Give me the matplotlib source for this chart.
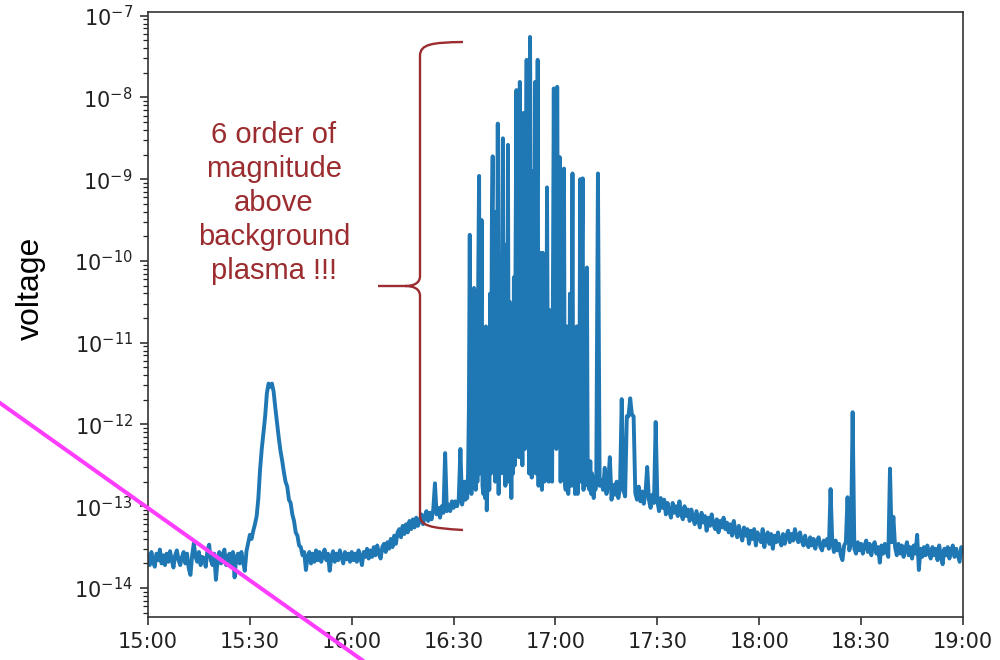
import matplotlib
matplotlib.use("Agg")
import matplotlib.pyplot as plt
import matplotlib.dates as mdates
import matplotlib.transforms as mtransforms
from matplotlib.path import Path
from matplotlib.patches import PathPatch
from matplotlib.lines import Line2D
from matplotlib.ticker import LogLocator, NullFormatter
import numpy as np
import pandas as pd

# log10(voltage)
# 30 s readings from 15:00 to 16:32:30
quiet_before = [  # 15:00 - 15:29:30
    -13.60, -13.72, -13.56, -13.68, -13.74, -13.58, -13.66, -13.53, -13.70, -13.60,
    -13.72, -13.58, -13.68, -13.55, -13.66, -13.75, -13.60, -13.54, -13.66, -13.72,
    -13.62, -13.56, -13.70, -13.58, -13.76, -13.84, -13.60, -13.45, -13.62, -13.68,
    -13.56, -13.72, -13.62, -13.64, -13.74, -13.54, -13.47, -13.66, -13.72, -13.58,
    -13.90, -13.66, -13.56, -13.70, -13.60, -13.53, -13.72, -13.62, -13.58, -13.74,
    -13.56, -13.87, -13.62, -13.58, -13.70, -13.56, -13.68, -13.79, -13.55, -13.45,
]
flare_1535 = [  # 15:30 - 15:49:30
    -13.35, -13.40, -13.30, -13.22, -13.12, -12.90, -12.55, -12.30, -12.10, -11.90,
    -11.62, -11.50, -11.54, -11.50, -11.60, -11.80, -11.98, -12.16, -12.32, -12.44,
    -12.58, -12.70, -12.76, -12.92, -12.96, -13.10, -13.18, -13.32, -13.36, -13.48,
    -13.50, -13.60, -13.56, -13.78, -13.62, -13.56, -13.70, -13.58, -13.68, -13.54,
]
quiet_mid = [  # 15:50 - 16:29:30
    -13.66, -13.56, -13.68, -13.60, -13.53, -13.66, -13.58, -13.79, -13.62, -13.55,
    -13.68, -13.58, -13.66, -13.54, -13.62, -13.70, -13.56, -13.65, -13.58, -13.68,
    -13.56, -13.66, -13.58, -13.68, -13.54, -13.62, -13.72, -13.56, -13.62, -13.52,
    -13.64, -13.54, -13.62, -13.50, -13.60, -13.48, -13.58, -13.64, -13.50, -13.46,
    -13.56, -13.44, -13.52, -13.40, -13.50, -13.36, -13.46, -13.32, -13.28, -13.38,
    -13.24, -13.34, -13.22, -13.32, -13.18, -13.28, -13.16, -13.26, -13.14, -13.24,
    -13.18, -13.10, -13.22, -13.12, -13.06, -13.18, -13.08, -13.16, -13.04, -12.72,
    -13.10, -13.02, -13.14, -13.00, -13.08, -12.35, -13.06, -12.98, -13.06, -12.94,
]
onset = [-13.02, -12.94, -13.00, -12.92, -12.30, -12.98]  # 16:30 - 16:32:30

# 15 s readings, 16:33 - 17:11:45 (one row per minute)
burst_core = [
    -12.85, -12.70, -12.92, -12.75,
    -12.90, -12.60, -11.80, -9.68,
    -12.60, -12.85, -11.20, -12.70,
    -10.33, -10.40, -12.80, -11.60,
    -12.70, -10.20, -8.96, -12.60,
    -11.40, -9.50, -12.75, -12.85,
    -11.00, -12.90, -10.80, -13.05,
    -12.70, -11.20, -12.80, -10.40,
    -12.60, -9.60, -8.72, -12.40,
    -10.80, -12.70, -9.40, -11.60,
    -8.32, -12.85, -10.20, -12.60,
    -11.20, -9.70, -8.50, -12.60,
    -10.60, -12.75, -9.80, -11.40,
    -8.58, -12.70, -10.50, -11.05,
    -12.90, -11.05, -12.60, -10.20,
    -12.50, -9.80, -7.91, -11.00,
    -9.50, -12.40, -7.81, -10.60,
    -11.20, -12.50, -8.19, -10.00,
    -12.30, -9.40, -7.54, -11.80,
    -9.20, -12.60, -7.26, -9.60,
    -12.65, -8.90, -11.40, -12.50,
    -7.81, -12.60, -9.95, -7.54,
    -12.75, -9.95, -12.50, -9.90,
    -12.80, -9.90, -11.60, -12.70,
    -9.95, -12.60, -9.10, -11.50,
    -12.70, -10.60, -12.50, -11.20,
    -12.70, -10.20, -7.89, -11.40,
    -9.80, -12.30, -7.87, -10.40,
    -11.20, -8.73, -12.70, -10.60,
    -12.50, -11.80, -8.87, -12.70,
    -12.80, -10.80, -11.12, -12.85,
    -12.40, -10.40, -12.75, -11.60,
    -8.93, -12.75, -11.60, -12.85,
    -12.60, -10.80, -12.85, -11.40,
    -12.60, -9.00, -12.70, -10.20,
    -8.99, -12.80, -11.80, -12.50,
    -10.60, -10.08, -12.75, -12.60,
    -12.80, -12.45, -12.85, -12.60,
    -12.70, -12.90, -12.65, -12.80,
]

# 30 s readings again, 17:12 - 19:00
burst_tail = [
    -12.70, -8.93, -12.75, -12.68, -12.80, -12.53, -12.85, -12.74, -12.40, -12.92,
    -12.74, -12.86, -12.70, -12.90, -12.78, -11.69, -12.80, -12.88, -11.90, -11.90,
    -11.68, -11.88, -11.90, -12.84, -12.92, -12.76, -12.94, -12.82, -12.97, -12.84,
    -12.52, -12.92, -13.02, -12.86, -12.96, -11.97,
]
decay = [
    -12.94, -13.06, -12.90, -13.02, -12.92, -13.10, -12.96, -13.06, -13.14, -12.96,
    -13.08, -13.00, -13.12, -12.94, -13.10, -13.16, -13.00, -13.12, -13.04, -13.18,
    -13.04, -13.14, -13.22, -13.06, -13.16, -13.26, -13.08, -13.20, -13.12, -13.30,
    -13.14, -13.24, -13.10, -13.22, -13.28, -13.16, -13.32, -13.18, -13.26, -13.14,
    -13.28, -13.20, -13.32, -13.22, -13.36, -13.18, -13.30, -13.38, -13.24, -13.34,
    -13.42, -13.26, -13.36, -13.28, -13.46, -13.30, -13.40, -13.28, -13.48, -13.32,
    -13.38, -13.44, -13.28, -13.50, -13.36, -13.32, -13.46, -13.34, -13.52, -13.36,
    -13.44, -13.32, -13.42, -13.48, -13.34, -13.46, -13.36, -13.30, -13.44, -13.34,
    -13.42, -13.28, -13.38, -13.44, -13.32, -13.42, -13.48, -13.36, -13.46, -13.50,
    -13.38, -13.48, -13.40, -13.52, -13.42, -13.38, -13.50, -13.54, -13.42, -13.48,
    -13.40, -13.52, -12.79, -13.44, -13.56, -13.42, -13.54, -13.46, -13.60, -13.66,
    -13.48, -13.44, -12.89, -13.54, -13.46, -11.85, -13.52, -13.58, -13.44, -13.54,
    -13.46, -13.58, -13.48, -13.42, -13.56, -13.46, -13.60, -13.48, -13.44, -13.58,
    -13.50, -13.69, -13.48, -13.58, -13.46, -13.56, -13.62, -12.54, -13.44, -13.13,
    -13.50, -13.60, -13.46, -13.58, -13.48, -13.62, -13.52, -13.44, -13.60, -13.50,
    -13.64, -13.48, -13.58, -13.35, -13.78, -13.52, -13.62, -13.50, -13.60, -13.48,
    -13.58, -13.64, -13.50, -13.60, -13.52, -13.66, -13.48, -13.62, -13.71, -13.52,
    -13.60, -13.50, -13.64, -13.54, -13.48, -13.62, -13.52, -13.60, -13.68, -13.50,
    -13.56,
]

start_time = "2019-01-01 15:00"
core_start = "2019-01-01 16:33"
tail_start = "2019-01-01 17:12"
end_time = "2019-01-01 19:00"
y_label = "voltage"
note = "6 order of\nmagnitude\nabove\nbackground\nplasma !!!"

first = quiet_before + flare_1535 + quiet_mid + onset
last = burst_tail + decay
log_v = np.array(first + burst_core + last)
voltage = 10.0 ** log_v
times = (pd.date_range(start_time, periods=len(first), freq="30s")
         .append(pd.date_range(core_start, periods=len(burst_core), freq="15s"))
         .append(pd.date_range(tail_start, periods=len(last), freq="30s")))

plt.rcParams["font.family"] = "DejaVu Sans"
fig = plt.figure(figsize=(10, 6.6), dpi=100)
ax = fig.add_axes([0.148, 1 - 617 / 660, 0.815, (617 - 12) / 660])

ax.plot(times, voltage, color="#1f77b4", lw=2.8)
ax.set_yscale("log")
ax.set_ylim(10 ** -14.355, 10 ** -6.955)
ax.set_xlim(pd.Timestamp(start_time), pd.Timestamp(end_time))

ax.xaxis.set_major_locator(mdates.MinuteLocator(byminute=[0, 30]))
ax.xaxis.set_major_formatter(mdates.DateFormatter("%H:%M"))
ax.yaxis.set_major_locator(LogLocator(base=10, numticks=20))
ax.yaxis.set_minor_locator(LogLocator(base=10, subs=np.arange(2, 10), numticks=200))
ax.yaxis.set_minor_formatter(NullFormatter())

ax.tick_params(which="major", length=6, width=1.1, labelsize=15,
               colors="#222222", pad=5)
ax.tick_params(which="minor", length=3.5, width=0.9, colors="#222222")
for s in ax.spines.values():
    s.set_linewidth(1.2)
    s.set_color("#333333")

# pixel coordinates (from top-left) -> figure
px = mtransforms.Affine2D().scale(1 / 1000, -1 / 660).translate(0, 1) + fig.transFigure

fig.text(0.031, 1 - 288 / 660, y_label, rotation=90, ha="center", va="center",
         fontsize=23, family="Liberation Sans", color="black")

red = "#9b2c2f"
fig.text(0.274, 1 - 203 / 660, note, ha="center", va="center", multialignment="center",
         fontsize=21, family="Liberation Sans", color=red, linespacing=1.28)

verts = [(463, 42), (432, 42.5), (420, 44), (420, 56),
         (420, 276),
         (420, 283), (414, 286), (405, 286),
         (378, 286),
         (405, 286),
         (414, 286), (420, 289), (420, 296),
         (420, 515),
         (420, 526), (430, 528), (463, 530)]
codes = [Path.MOVETO, Path.CURVE4, Path.CURVE4, Path.CURVE4,
         Path.LINETO,
         Path.CURVE4, Path.CURVE4, Path.CURVE4,
         Path.LINETO,
         Path.MOVETO,
         Path.CURVE4, Path.CURVE4, Path.CURVE4,
         Path.LINETO,
         Path.CURVE4, Path.CURVE4, Path.CURVE4]
brace = PathPatch(Path(verts, codes), fill=False, edgecolor=red, lw=1.7,
                  transform=px, zorder=5)
fig.add_artist(brace)

# magenta line over the whole picture
fig.add_artist(Line2D([0, 362], [403, 660], color="#ff3dff", lw=2.9,
                      transform=px, zorder=10))

fig.savefig("out.png", dpi=100)
